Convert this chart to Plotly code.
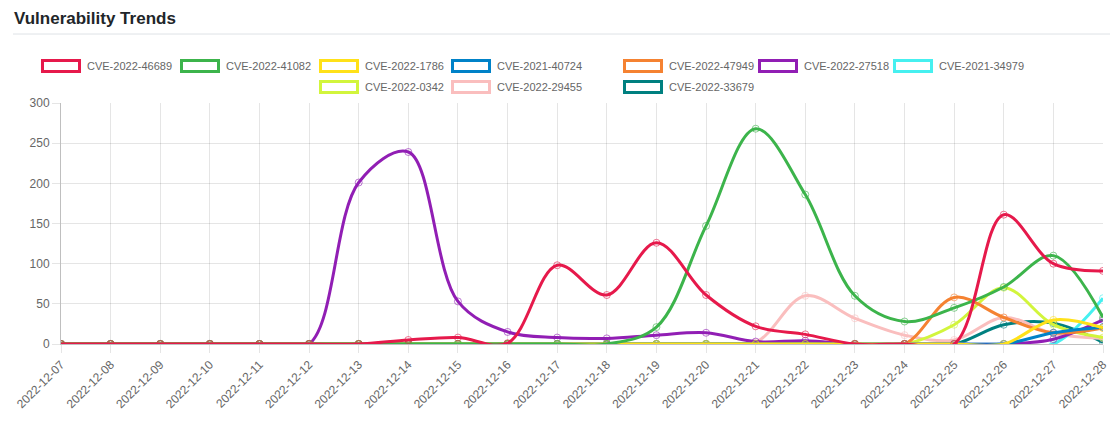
import plotly.graph_objects as go

# the page body adds an 8px margin, so the figure is laid out 8px up/left
OFF = 8
W, H = 1118 - OFF, 428 - OFF
FONT = "Liberation Sans, Arial, Helvetica, sans-serif"

dates = [
    "2022-12-07", "2022-12-08", "2022-12-09", "2022-12-10", "2022-12-11", "2022-12-12",
    "2022-12-13", "2022-12-14", "2022-12-15", "2022-12-16", "2022-12-17", "2022-12-18",
    "2022-12-19", "2022-12-20", "2022-12-21", "2022-12-22", "2022-12-23", "2022-12-24",
    "2022-12-25", "2022-12-26", "2022-12-27", "2022-12-28",
]

cve_2022_46689 = [0, 0, 0, 0, 0, 0, 0, 5, 8, 1, 98, 61, 126, 61, 22, 12, 0, 0, 0, 161, 100, 91]
cve_2022_41082 = [0, 0, 0, 0, 0, 0, 0, 0, 0, 0, 0, 0, 21, 147, 268, 186, 60, 28, 45, 71, 110, 33]
cve_2022_1786 = [0, 0, 0, 0, 0, 0, 0, 0, 0, 0, 0, 0, 0, 0, 0, 0, 0, 0, 0, 0, 30, 20]
cve_2021_40724 = [0, 0, 0, 0, 0, 0, 0, 0, 0, 0, 0, 0, 0, 0, 0, 0, 0, 0, 0, 0, 14, 21]
cve_2022_47949 = [0, 0, 0, 0, 0, 0, 0, 0, 0, 0, 0, 0, 0, 0, 0, 0, 0, 0, 58, 33, 14, 20]
cve_2022_27518 = [0, 0, 0, 0, 0, 0, 201, 239, 53, 15, 8, 7, 11, 14, 3, 4, 0, 0, 0, 0, 6, 30]
cve_2021_34979 = [0, 0, 0, 0, 0, 0, 0, 0, 0, 0, 0, 0, 0, 0, 0, 0, 0, 0, 0, 0, 0, 57]
cve_2022_0342 = [0, 0, 0, 0, 0, 0, 0, 0, 0, 0, 0, 0, 0, 0, 0, 0, 0, 0, 24, 70, 24, 8]
cve_2022_29455 = [0, 0, 0, 0, 0, 0, 0, 0, 0, 0, 0, 0, 0, 0, 2, 60, 32, 11, 5, 33, 13, 7]
cve_2022_33679 = [0, 0, 0, 0, 0, 0, 0, 0, 0, 0, 0, 0, 0, 0, 0, 0, 0, 0, 0, 24, 26, 2]

series = [
    ("CVE-2022-46689", cve_2022_46689, "#e6194b"),
    ("CVE-2022-41082", cve_2022_41082, "#3cb44b"),
    ("CVE-2022-1786", cve_2022_1786, "#ffe119"),
    ("CVE-2021-40724", cve_2021_40724, "#0082c8"),
    ("CVE-2022-47949", cve_2022_47949, "#f58231"),
    ("CVE-2022-27518", cve_2022_27518, "#911eb4"),
    ("CVE-2021-34979", cve_2021_34979, "#46f0f0"),
    ("CVE-2022-0342", cve_2022_0342, "#d2f53c"),
    ("CVE-2022-29455", cve_2022_29455, "#fabebe"),
    ("CVE-2022-33679", cve_2022_33679, "#008080"),
]

# plot area in screenshot pixels
L, R, T, B = 61, 1103, 103, 344


def px(x):
    return (x - L) / (R - L)


def py(y):
    return (B - y) / (B - T)


def rgba(hex_color, a):
    h = hex_color.lstrip("#")
    return f"rgba({int(h[0:2], 16)},{int(h[2:4], 16)},{int(h[4:6], 16)},{a})"


fig = go.Figure()

# first dataset drawn on top, like the original
for name, values, color in reversed(series):
    fig.add_trace(go.Scatter(
        x=dates, y=values, name=name, mode="lines+markers",
        line=dict(color=color, width=3, shape="spline", smoothing=1.0),
        marker=dict(symbol="circle-open", size=7, color=rgba(color, 0.6), line=dict(width=1)),
        showlegend=False,
    ))

shapes = [
    dict(type="line", xref="paper", yref="paper", x0=px(13), x1=px(1110), y0=py(34), y1=py(34),
         line=dict(color="#dee2e6", width=1)),
]
annotations = [
    dict(text="<b>Vulnerability Trends</b>", xref="paper", yref="paper", x=px(12), y=py(19),
         xanchor="left", yanchor="middle", showarrow=False,
         font=dict(family=FONT, size=17, color="#212529")),
]

# chart.js style legend: outlined boxes with labels
legend_rows = [
    (66, [41, 180, 319, 451, 623, 758, 893]),
    (87, [319, 451, 623]),
]
idx = 0
for yc, xs in legend_rows:
    for x0 in xs:
        name, _, color = series[idx]
        idx += 1
        shapes.append(dict(type="rect", xref="paper", yref="paper",
                           x0=px(x0 + 1.5), x1=px(x0 + 38.5), y0=py(yc - 5.5), y1=py(yc + 5.5),
                           line=dict(color=color, width=3), fillcolor="white"))
        annotations.append(dict(text=name, xref="paper", yref="paper", x=px(x0 + 44), y=py(yc),
                                xanchor="left", yanchor="middle", showarrow=False,
                                font=dict(family=FONT, size=11, color="#666666")))

fig.update_layout(
    width=W, height=H,
    paper_bgcolor="white", plot_bgcolor="white",
    margin=dict(l=L - OFF, r=W - (R - OFF), t=T - OFF, b=H - (B - OFF), pad=0),
    font=dict(family=FONT, size=12, color="#666666"),
    shapes=shapes, annotations=annotations,
    showlegend=False,
)
fig.update_xaxes(
    type="category", range=[0, len(dates) - 1], tickangle=-45, automargin=False,
    showgrid=True, gridcolor="rgba(0,0,0,0.1)", gridwidth=1,
    ticks="outside", ticklen=8, tickcolor="rgba(0,0,0,0.1)",
    showline=True, linecolor="rgba(0,0,0,0.25)", zeroline=False,
    tickfont=dict(family=FONT, size=12, color="#666666"),
)
fig.update_yaxes(
    range=[0, 300], dtick=50, automargin=False,
    showgrid=True, gridcolor="rgba(0,0,0,0.1)", gridwidth=1,
    ticks="outside", ticklen=8, tickcolor="rgba(0,0,0,0.1)",
    showline=True, linecolor="rgba(0,0,0,0.25)", zeroline=False,
    tickfont=dict(family=FONT, size=12, color="#666666"),
)

fig.write_html("out.html")
